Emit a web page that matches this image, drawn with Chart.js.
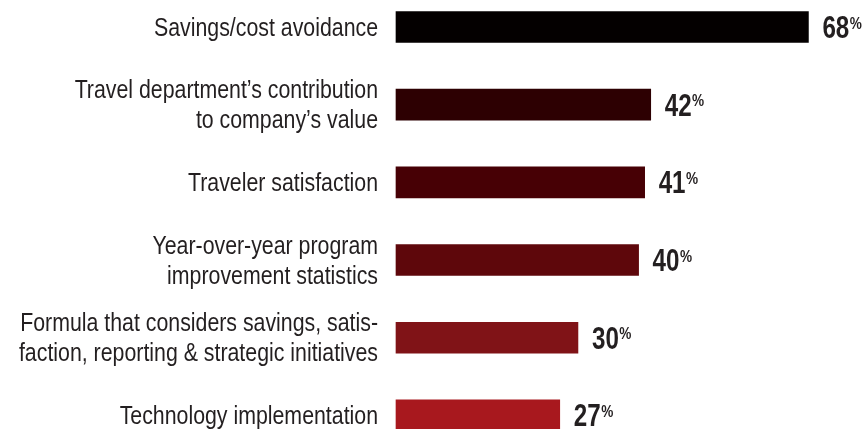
<!DOCTYPE html>
<html>
<head>
<meta charset="utf-8">
<script src="https://cdn.jsdelivr.net/npm/chart.js@4"></script>
<style>
  html, body { margin: 0; padding: 0; background: #fff; }
  #wrap { width: 863px; height: 429px; position: relative; }
</style>
</head>
<body>
<div id="wrap"><canvas id="metricChart"></canvas></div>
<script>
// categories (multi-line labels as arrays)
const categories = [
    ['Savings/cost avoidance'],
    ['Travel department\u2019s contribution', 'to company\u2019s value'],
    ['Traveler satisfaction'],
    ['Year-over-year program', 'improvement statistics'],
    ['Formula that considers savings, satis-', 'faction, reporting & strategic initiatives'],
    ['Technology implementation']
];
const shares = [68, 42, 41, 40, 30, 27];
const barColors = ['#040000', '#2d0002', '#470005', '#5e070b', '#801317', '#a8181e'];

const textColor = '#231f20';
const fontFamily = "'Liberation Sans', Arial, sans-serif";

// condensed look: draw text squeezed horizontally
function squeezedText(ctx, text, x, y, sx, align) {
    ctx.save();
    ctx.translate(x, y);
    ctx.scale(sx, 1);
    ctx.textAlign = align;
    ctx.fillText(text, 0, 0);
    const w = ctx.measureText(text).width * sx;
    ctx.restore();
    return w;
}

// category labels to the left of the bars
const categoryLabels = {
    id: 'categoryLabels',
    afterDraw(chart) {
        const ctx = chart.ctx;
        const yScale = chart.scales.y;
        const right = chart.chartArea.left - 18;
        const lineH = 30;
        ctx.save();
        ctx.fillStyle = textColor;
        ctx.textBaseline = 'alphabetic';
        ctx.font = "26px " + fontFamily;
        chart.data.labels.forEach(function (lines, i) {
            const yc = yScale.getPixelForValue(i);
            lines.forEach(function (line, k) {
                const base = yc + (k - (lines.length - 1) / 2) * lineH + 8.5;
                squeezedText(ctx, line, right, base, 0.82, 'right');
            });
        });
        ctx.restore();
    }
};

// "68%" style value labels with a raised percent sign
const valueLabels = {
    id: 'valueLabels',
    afterDatasetsDraw(chart) {
        const ctx = chart.ctx;
        const meta = chart.getDatasetMeta(0);
        ctx.save();
        ctx.fillStyle = textColor;
        ctx.textBaseline = 'alphabetic';
        meta.data.forEach(function (bar, i) {
            const x = bar.x + 14;
            const base = bar.y + 11;
            ctx.font = "bold 31px " + fontFamily;
            const w = squeezedText(ctx, String(shares[i]), x, base, 0.78, 'left');
            ctx.font = "bold 17px " + fontFamily;
            squeezedText(ctx, '%', x + w + 0.5, base - 9.5, 0.8, 'left');
        });
        ctx.restore();
    }
};

const ctx = document.getElementById('metricChart').getContext('2d');
new Chart(ctx, {
    type: 'bar',
    data: {
        labels: categories,
        datasets: [{
            data: shares,
            backgroundColor: barColors,
            borderWidth: 0,
            barThickness: 31,
            clip: false
        }]
    },
    options: {
        indexAxis: 'y',
        responsive: true,
        maintainAspectRatio: false,
        animation: false,
        layout: { padding: { top: 27, bottom: 13.6, left: 0, right: 0 } },
        plugins: {
            legend: { display: false },
            tooltip: { enabled: false }
        },
        scales: {
            x: {
                display: false,
                min: 0,
                max: 77
            },
            y: {
                offset: false,
                grid: { display: false, drawTicks: false },
                border: { display: false },
                ticks: { display: false },
                afterFit(scale) {
                    scale.width = 396;
                    scale.paddingTop = 0;
                    scale.paddingBottom = 0;
                }
            }
        }
    },
    plugins: [categoryLabels, valueLabels]
});
</script>
</body>
</html>
